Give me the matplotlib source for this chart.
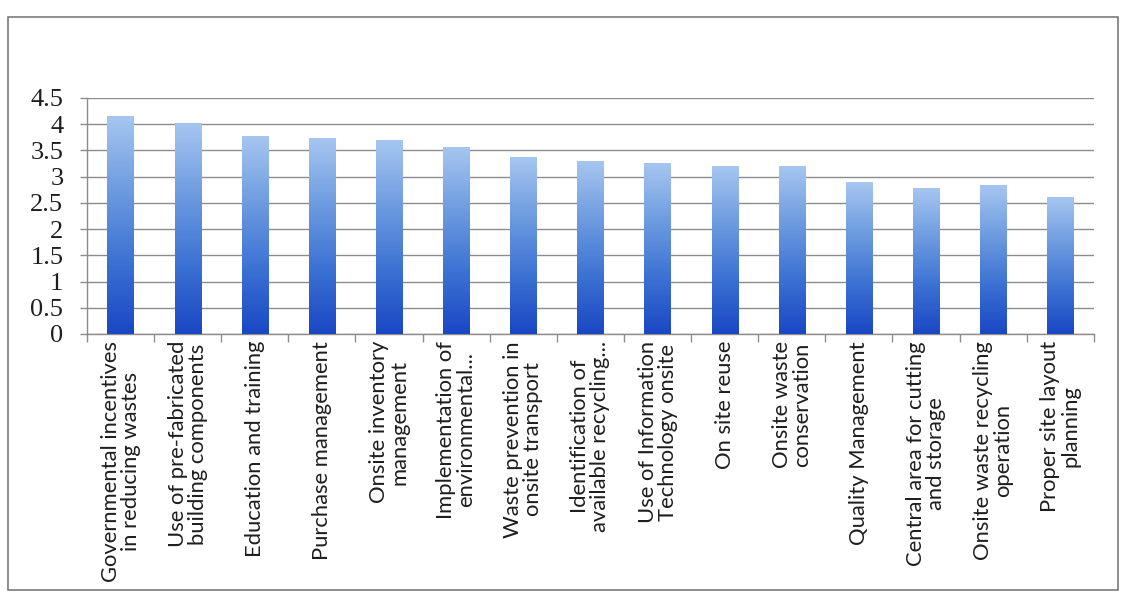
import matplotlib

matplotlib.use("Agg")
import matplotlib.pyplot as plt
import numpy as np
from matplotlib.colors import LinearSegmentedColormap
from matplotlib.patches import Rectangle

# mean scores of waste minimisation measures
categories = [
    "Governmental incentives\nin reducing wastes",
    "Use of pre-fabricated\nbuilding components",
    "Education and training",
    "Purchase management",
    "Onsite inventory\nmanagement",
    "Implementation of\nenvironmental...",
    "Waste prevention in\nonsite transport",
    "Identification of\navailable recycling...",
    "Use of Information\nTechnology onsite",
    "On site reuse",
    "Onsite waste\nconservation",
    "Quality Management",
    "Central area for cutting\nand storage",
    "Onsite waste recycling\noperation",
    "Proper site layout\nplanning",
]
scores = [4.14, 4.02, 3.77, 3.72, 3.69, 3.55, 3.37, 3.29, 3.26, 3.20, 3.19, 2.89, 2.78, 2.83, 2.61]
y_ticks = [0, 0.5, 1, 1.5, 2, 2.5, 3, 3.5, 4, 4.5]
y_tick_labels = ["0", "0.5", "1", "1.5", "2", "2.5", "3", "3.5", "4", "4.5"]

BAR_CMAP = LinearSegmentedColormap.from_list(
    "excel_blue", ["#1a47c4", "#3c72d3", "#6e9ce0", "#a6c6f0"])
GRID = "#8c8c8c"
TEXT = "#1e1e1e"

fig = plt.figure(figsize=(11.25, 5.95), dpi=100)
fig.patch.set_facecolor("white")
ax = fig.add_axes([0.0773, 0.4387, 0.8950, 0.3966])

# outer chart-area border
fig.patches.append(Rectangle((0.007, 0.0084), 0.9868, 0.9626, transform=fig.transFigure,
                             fill=False, edgecolor="#7a7a7a", linewidth=1.2))

x = np.arange(len(categories))
bars = ax.bar(x, scores, width=0.39, color="none", edgecolor="none", zorder=3)

# vertical gradient per bar: dark at the base, light at the top
grad = np.linspace(0, 1, 256).reshape(-1, 1)
for b in bars:
    bx, by = b.get_x(), b.get_y()
    bw, bh = b.get_width(), b.get_height()
    ax.imshow(grad, extent=[bx, bx + bw, by, by + bh], origin="lower",
              aspect="auto", cmap=BAR_CMAP, zorder=3)

ax.set_xlim(-0.5, len(categories) - 0.5)
ax.set_ylim(0, 4.5)

ax.set_yticks(y_ticks)
ax.set_yticklabels(y_tick_labels, family="Liberation Serif", fontsize=19, color=TEXT)
ax.yaxis.grid(True, color=GRID, linewidth=1.0, zorder=0)
ax.set_axisbelow(True)
ax.tick_params(axis="y", length=5, width=1, color=GRID, pad=12)

ax.set_xticks(x)
ax.set_xticklabels(categories, rotation=90, ha="center", va="top",
                   multialignment="center", family="Lato", fontsize=15.8,
                   linespacing=1.0, color=TEXT)
ax.set_xticks(np.arange(len(categories) + 1) - 0.5, minor=True)
ax.tick_params(axis="x", which="major", length=0, pad=5)
ax.tick_params(axis="x", which="minor", length=6, width=1, color=GRID)

for side in ("top", "right"):
    ax.spines[side].set_visible(False)
for side in ("left", "bottom"):
    ax.spines[side].set_color(GRID)
    ax.spines[side].set_linewidth(1.0)

fig.savefig("out.png", dpi=100, facecolor="white")
